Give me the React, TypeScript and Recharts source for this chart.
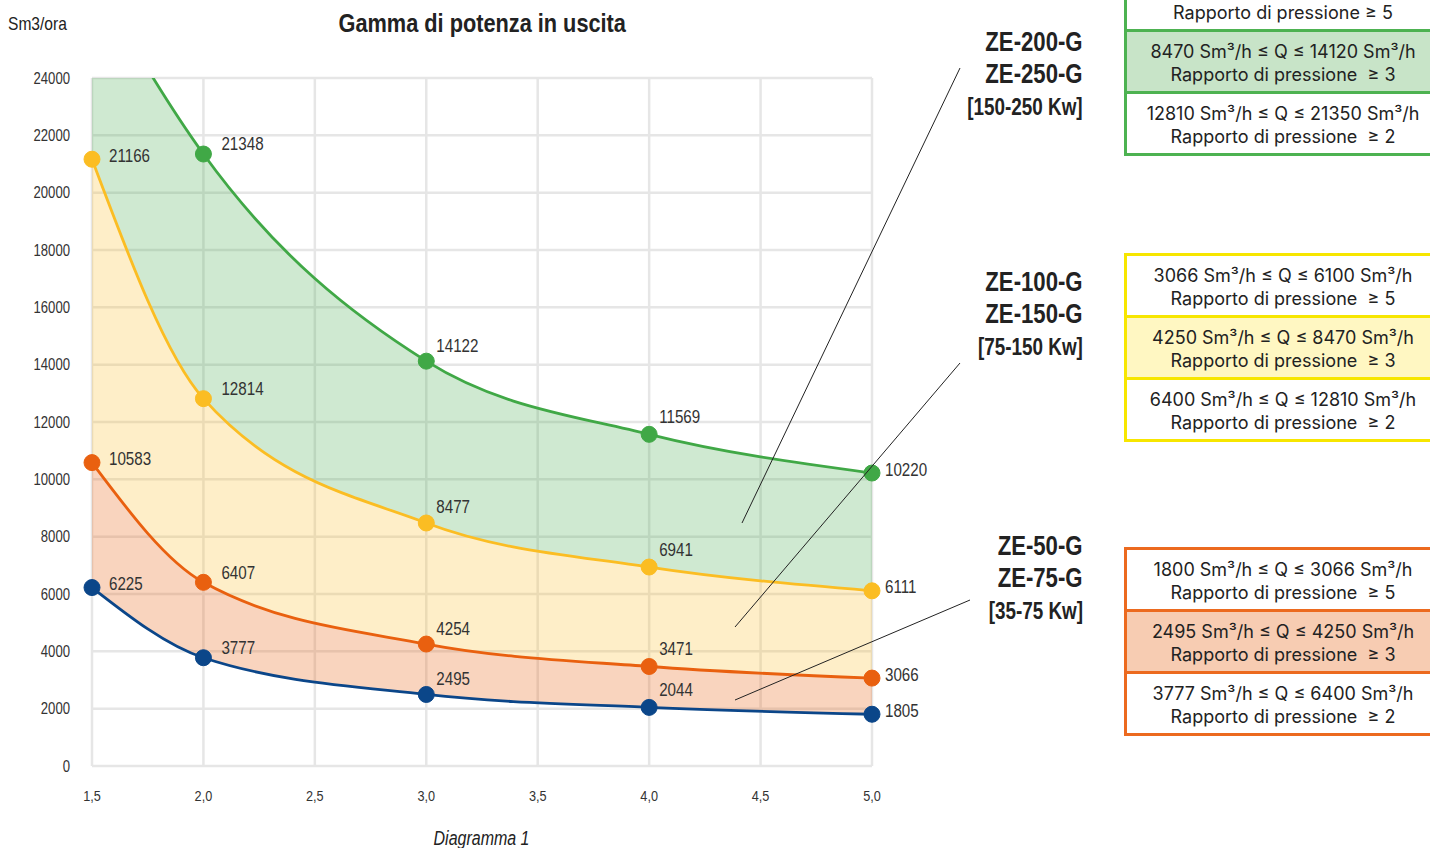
import React from 'react'
import { ComposedChart, Area, Line, XAxis, YAxis, CartesianGrid, LabelList } from 'recharts'

// pressure ratio (x) and flow Sm3/h (y)
const pressureRatios = [1.5, 2, 3, 4, 5]
// the first point of the top curve sits above the 24000 limit (clipped), estimated from the curve
const flow200 = [27600, 21348, 14122, 11569, 10220]
const flow100 = [21166, 12814, 8477, 6941, 6111]
const flow50 = [10583, 6407, 4254, 3471, 3066]
const flowMin = [6225, 3777, 2495, 2044, 1805]

const xTicks = [1.5, 2, 2.5, 3, 3.5, 4, 4.5, 5]
const yTicks = [0, 2000, 4000, 6000, 8000, 10000, 12000, 14000, 16000, 18000, 20000, 22000, 24000]

const greenRows = [
  ['\u00a0', 'Rapporto di pressione ≥ 5'],
  ['8470 Sm³/h ≤ Q ≤ 14120 Sm³/h', 'Rapporto di pressione  ≥ 3'],
  ['12810 Sm³/h ≤ Q ≤ 21350 Sm³/h', 'Rapporto di pressione  ≥ 2'],
]
const yellowRows = [
  ['3066 Sm³/h ≤ Q ≤ 6100 Sm³/h', 'Rapporto di pressione  ≥ 5'],
  ['4250 Sm³/h ≤ Q ≤ 8470 Sm³/h', 'Rapporto di pressione  ≥ 3'],
  ['6400 Sm³/h ≤ Q ≤ 12810 Sm³/h', 'Rapporto di pressione  ≥ 2'],
]
const orangeRows = [
  ['1800 Sm³/h ≤ Q ≤ 3066 Sm³/h', 'Rapporto di pressione  ≥ 5'],
  ['2495 Sm³/h ≤ Q ≤ 4250 Sm³/h', 'Rapporto di pressione  ≥ 3'],
  ['3777 Sm³/h ≤ Q ≤ 6400 Sm³/h', 'Rapporto di pressione  ≥ 2'],
]

const GREEN = '#40a846'
const YELLOW = '#fbbd23'
const ORANGE = '#e9600f'
const BLUE = '#0b4689'
const SANS = "'Liberation Sans', Arial, sans-serif"
const SQUEEZE = 0.82 // arial narrow look
const Y_MAX = 24000

const rows = pressureRatios.map((x, i) => ({
  x,
  top: flow200[i],
  mid: flow100[i],
  low: flow50[i],
  min: flowMin[i],
  bandTop: [flow100[i], flow200[i]],
  bandMid: [flow50[i], flow100[i]],
  bandLow: [flowMin[i], flow50[i]],
}))

function NarrowText({ x, y, anchor, size, dy, children }: any) {
  return (
    <text transform={`translate(${x},${y}) scale(${SQUEEZE},1)`} textAnchor={anchor} fontSize={size} fontFamily={SANS} fill="#333" dy={dy}>
      {children}
    </text>
  )
}

const XTick = (p: any) => (
  <NarrowText x={p.x} y={p.y} anchor="middle" size={15.5} dy="0.71em">
    {Number(p.payload.value).toFixed(1).replace('.', ',')}
  </NarrowText>
)

const YTick = (p: any) => (
  <NarrowText x={p.x} y={p.y} anchor="end" size={16} dy="0.35em">
    {p.payload.value}
  </NarrowText>
)

// label offset next to each dot, by point index
const labelShift = [
  [17, -4],
  [18, -10],
  [10, -16],
  [10, -18],
  [13, -4],
]

const pointLabel = (props: any) => {
  const vb = props.viewBox || {}
  const x = vb.x ?? props.x
  const y = vb.y ?? props.y
  if (props.value > Y_MAX) return null
  const [dx, dy] = labelShift[props.index] || [12, -8]
  return (
    <NarrowText x={x + dx} y={y + dy} anchor="start" size={18.5} dy="0.35em">
      {props.value}
    </NarrowText>
  )
}

function RangeBox({ rows, color, fill, top }: { rows: string[][], color: string, fill: string, top: number }) {
  return (
    <div style={{ position: 'absolute', left: 1124, top, width: 320, border: `3px solid ${color}`, borderRight: 'none', background: '#fff', fontFamily: 'Inter, sans-serif', fontSize: 18, color: '#222' }}>
      {rows.map((r, i) => (
        <div key={i} style={{ height: 51, paddingTop: 8, paddingRight: 8, lineHeight: '23px', textAlign: 'center', whiteSpace: 'pre', background: i === 1 ? fill : '#fff', borderTop: i > 0 ? `3px solid ${color}` : 'none' }}>
          <div>{r[0]}</div>
          <div>{r[1]}</div>
        </div>
      ))}
    </div>
  )
}

const squeezed = (origin: string): React.CSSProperties => ({ display: 'inline-block', transform: `scaleX(${SQUEEZE})`, transformOrigin: origin, whiteSpace: 'nowrap' })

function ModelLabel({ lines, top }: { lines: string[], top: number }) {
  return (
    <div style={{ position: 'absolute', right: 347, top, textAlign: 'right', fontFamily: SANS, fontWeight: 'bold', color: '#222' }}>
      <div style={{ fontSize: 27, lineHeight: '32px' }}><span style={squeezed('right')}>{lines[0]}</span></div>
      <div style={{ fontSize: 27, lineHeight: '32px' }}><span style={squeezed('right')}>{lines[1]}</span></div>
      <div style={{ fontSize: 23, lineHeight: '34px' }}><span style={squeezed('right')}>{lines[2]}</span></div>
    </div>
  )
}

// leader lines from the model labels into the bands
const leaders = [
  [960, 68, 742, 523],
  [960, 363, 735, 627],
  [970, 600, 735, 700],
]

export default function App() {
  return (
    <div style={{ position: 'absolute', left: 0, top: 0, width: 1430, height: 848, overflow: 'hidden', background: '#fff' }}>
      <div style={{ position: 'absolute', left: 8, top: 13, fontFamily: SANS, fontSize: 19, lineHeight: '22px', color: '#222' }}>
        <span style={squeezed('left')}>Sm3/ora</span>
      </div>
      <div style={{ position: 'absolute', left: 0, width: 964, top: 7, textAlign: 'center', fontFamily: SANS, fontWeight: 'bold', fontSize: 26.5, lineHeight: '32px', color: '#222' }}>
        <span style={squeezed('center')}>Gamma di potenza in uscita</span>
      </div>
      <div style={{ position: 'absolute', left: 0, width: 964, top: 826, textAlign: 'center', fontFamily: SANS, fontStyle: 'italic', fontSize: 19.5, lineHeight: '24px', color: '#222' }}>
        <span style={squeezed('center')}>Diagramma 1</span>
      </div>

      <div style={{ position: 'absolute', left: 0, top: 0 }}>
        <ComposedChart width={1430} height={848} data={rows} margin={{ top: 78, right: 558, bottom: 42, left: 0 }}>
          <CartesianGrid stroke="#e6e6e6" strokeWidth={2.5} />
          <XAxis
            dataKey="x"
            type="number"
            domain={[1.5, 5]}
            ticks={xTicks}
            axisLine={false}
            tickLine={false}
            height={40}
            tickMargin={18}
            tick={XTick}
          />
          <YAxis
            type="number"
            domain={[0, Y_MAX]}
            allowDataOverflow
            ticks={yTicks}
            axisLine={false}
            tickLine={false}
            width={92}
            tickMargin={16}
            tick={YTick}
          />
          <Area dataKey="bandTop" type="monotone" stroke="none" fill={GREEN} fillOpacity={0.25} isAnimationActive={false} />
          <Area dataKey="bandMid" type="monotone" stroke="none" fill={YELLOW} fillOpacity={0.25} isAnimationActive={false} />
          <Area dataKey="bandLow" type="monotone" stroke="none" fill={ORANGE} fillOpacity={0.27} isAnimationActive={false} />
          <Line dataKey="top" type="monotone" stroke={GREEN} strokeWidth={2.8} dot={{ r: 8, fill: GREEN, stroke: GREEN, strokeWidth: 1 }} isAnimationActive={false}>
            <LabelList dataKey="top" content={pointLabel} />
          </Line>
          <Line dataKey="mid" type="monotone" stroke={YELLOW} strokeWidth={2.8} dot={{ r: 8, fill: YELLOW, stroke: YELLOW, strokeWidth: 1 }} isAnimationActive={false}>
            <LabelList dataKey="mid" content={pointLabel} />
          </Line>
          <Line dataKey="low" type="monotone" stroke={ORANGE} strokeWidth={2.8} dot={{ r: 8, fill: ORANGE, stroke: ORANGE, strokeWidth: 1 }} isAnimationActive={false}>
            <LabelList dataKey="low" content={pointLabel} />
          </Line>
          <Line dataKey="min" type="monotone" stroke={BLUE} strokeWidth={2.8} dot={{ r: 8, fill: BLUE, stroke: BLUE, strokeWidth: 1 }} isAnimationActive={false}>
            <LabelList dataKey="min" content={pointLabel} />
          </Line>
        </ComposedChart>
      </div>

      <svg width={1430} height={848} style={{ position: 'absolute', left: 0, top: 0, pointerEvents: 'none' }}>
        {leaders.map((l, i) => (
          <line key={i} x1={l[0]} y1={l[1]} x2={l[2]} y2={l[3]} stroke="#222" strokeWidth={1} />
        ))}
      </svg>

      <ModelLabel lines={['ZE-200-G', 'ZE-250-G', '[150-250 Kw]']} top={26} />
      <ModelLabel lines={['ZE-100-G', 'ZE-150-G', '[75-150 Kw]']} top={266} />
      <ModelLabel lines={['ZE-50-G', 'ZE-75-G', '[35-75 Kw]']} top={530} />

      <RangeBox rows={greenRows} color="#4db251" fill="#c8e4c8" top={-33} />
      <RangeBox rows={yellowRows} color="#f7e600" fill="#fff7c2" top={253} />
      <RangeBox rows={orangeRows} color="#ec6a1f" fill="#f7ccb2" top={547} />
    </div>
  )
}
